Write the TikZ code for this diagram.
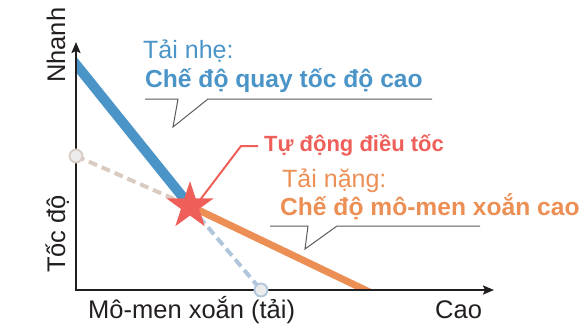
\documentclass[tikz,border=0pt]{standalone}
\usepackage{fontspec}
\setmainfont{Liberation Sans}
\usetikzlibrary{arrows.meta,shapes.geometric}

\definecolor{speedblue}{HTML}{4A94C8}
\definecolor{torqueorange}{HTML}{EC8F55}
\definecolor{autored}{HTML}{EF5F5A}
\definecolor{dashbeige}{HTML}{D9CBC1}
\definecolor{dashblue}{HTML}{AFC6DC}
\definecolor{callgray}{HTML}{58595B}
\definecolor{axisblack}{HTML}{231F20}

\begin{document}
\begin{tikzpicture}[x=1pt, y=-1pt,
    axis/.style={line width=2pt, draw=axisblack, line join=miter,
        {Stealth[length=11pt,width=9pt,inset=2pt]}-{Stealth[length=11pt,width=9pt,inset=2pt]}},
    fastline/.style={line width=10pt, draw=speedblue},
    torqueline/.style={line width=7pt, draw=torqueorange},
    dashline/.style={line width=4pt, dash pattern=on 9pt off 5pt},
    endpt/.style={circle, minimum size=13pt, inner sep=0, line width=1.8pt, fill=black!8},
    callout/.style={line width=1pt, draw=callgray, line join=miter},
    note/.style={anchor=base west, inner sep=0, font=\fontsize{25}{30}\selectfont},
    notebold/.style={note, font=\fontsize{24.6}{30}\selectfont\bfseries},
    axislabel/.style={anchor=base west, inner sep=0, font=\fontsize{25.5}{30}\selectfont, text=axisblack}
]
\useasboundingbox (0,0) rectangle (586,324);

% Points
\coordinate (origin) at (76,290);
\coordinate (ytop) at (76,42);
\coordinate (xend) at (494,290);
\coordinate (knee) at (190,206);
\coordinate (fastend) at (66,52);
\coordinate (torqueend) at (382,298);
\coordinate (speed0) at (76,156);
\coordinate (load0) at (261,290);

% Curves
\begin{scope}
\clip (origin) rectangle (586,0);
\draw[fastline] (fastend) -- (knee);
\draw[torqueline] (knee) -- (torqueend);
\end{scope}
\draw[dashline, draw=dashbeige] (speed0) -- (knee);
\draw[dashline, draw=dashblue] (knee) -- (load0);

% Axes
\draw[axis] (ytop) |- (xend);
\node[endpt, draw=dashbeige] (speedpt) at (speed0) {};
\node[endpt, draw=dashblue] (loadpt) at (load0) {};

% Auto regulation
\coordinate (redstart) at (200,200);
\coordinate (redknee) at (241,146);
\coordinate (redend) at (258,146);
\draw[line width=2pt, draw=autored, line join=miter] (redstart) -- (redknee) -- (redend);
\node[star, star points=5, star point ratio=2.618, minimum size=50pt, inner sep=0, fill=autored] (autostar) at (knee) {};
\node[notebold, text=autored, font=\fontsize{22}{26}\selectfont\bfseries] (autotext) at (264,151) {Tự động điều tốc};

% Light load
\node[note, text=speedblue] (lighttitle) at (143,58) {Tải nhẹ:};
\node[notebold, text=speedblue] (lightmode) at (145,87) {Chế độ quay tốc độ cao};
\draw[callout] (145,99) -- (178,99) -- (173,127) -- (208,99) -- (432,99);

% Heavy load
\node[note, text=torqueorange] (heavytitle) at (282,187) {Tải nặng:};
\node[notebold, text=torqueorange] (heavymode) at (280,215) {Chế độ mô-men xoắn cao};
\draw[callout] (270,226) -- (308,226) -- (305,249) -- (337,226) -- (480,226);

% Axis labels
\node[axislabel, rotate=90] (fastlbl) at (65,83) {Nhanh};
\node[axislabel, rotate=90] (speedlbl) at (65,273) {Tốc độ};
\node[axislabel] (torquelbl) at (88,318) {Mô-men xoắn (tải)};
\node[axislabel] (highlbl) at (435,318) {Cao};

\end{tikzpicture}
\end{document}
